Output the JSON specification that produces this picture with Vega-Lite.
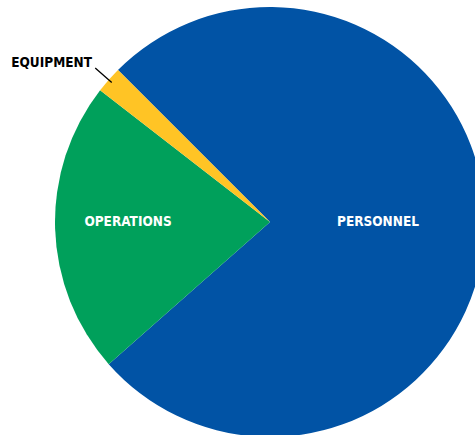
{
  "$schema": "https://vega.github.io/schema/vega-lite/v6.json",
  "width": 540,
  "height": 444,
  "autosize": "none",
  "padding": 0,
  "background": "white",
  "config": {"view": {"stroke": null}},
  "data": {
    "values": [
      {"category": "Personnel", "label": "PERSONNEL", "value": 76, "order": 1},
      {"category": "Operations", "label": "OPERATIONS", "value": 22, "order": 2},
      {"category": "Equipment", "label": "EQUIPMENT", "value": 2, "order": 3}
    ]
  },
  "encoding": {
    "theta": {"field": "value", "type": "quantitative", "stack": true, "scale": {"range": [-0.7854, 5.4978]}},
    "order": {"field": "order", "type": "quantitative"}
  },
  "layer": [
    {
      "mark": {"type": "arc", "outerRadius": 215},
      "encoding": {
        "color": {
          "field": "category", "type": "nominal", "legend": null,
          "scale": {"domain": ["Personnel", "Operations", "Equipment"], "range": ["#0153A5", "#00A05B", "#FFC425"]}
        }
      }
    },
    {
      "mark": {"type": "arc", "innerRadius": 211, "outerRadius": 233, "padAngle": 0.5, "fill": "black", "stroke": "black", "strokeWidth": 1.3},
      "encoding": {
        "opacity": {"condition": {"test": "datum.category === 'Equipment'", "value": 1}, "value": 0}
      }
    },
    {
      "mark": {"type": "text", "radius": 108, "thetaOffset": -0.031, "color": "white", "font": "DejaVu Sans Condensed", "fontWeight": "bold", "fontSize": 13.5, "align": "center", "baseline": "middle"},
      "encoding": {
        "text": {"condition": {"test": "datum.category === 'Personnel'", "field": "label"}, "value": ""}
      }
    },
    {
      "mark": {"type": "text", "radius": 142, "thetaOffset": 0.031, "color": "white", "font": "DejaVu Sans Condensed", "fontWeight": "bold", "fontSize": 13.5, "align": "center", "baseline": "middle"},
      "encoding": {
        "text": {"condition": {"test": "datum.category === 'Operations'", "field": "label"}, "value": ""}
      }
    },
    {
      "mark": {"type": "text", "radius": 270, "thetaOffset": -0.094, "color": "black", "font": "DejaVu Sans Condensed", "fontWeight": "bold", "fontSize": 13.5, "align": "center", "baseline": "middle"},
      "encoding": {
        "text": {"condition": {"test": "datum.category === 'Equipment'", "field": "label"}, "value": ""}
      }
    }
  ]
}
